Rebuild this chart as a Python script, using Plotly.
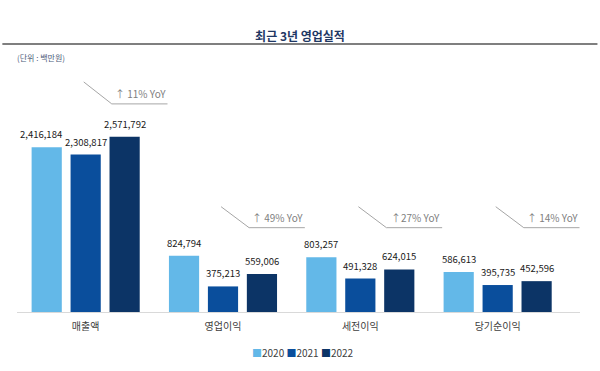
import plotly.graph_objects as go

categories = ["매출액", "영업이익", "세전이익", "당기순이익"]
years = ["2020", "2021", "2022"]
values_2020 = [2416184, 824794, 803257, 586613]
values_2021 = [2308817, 375213, 491328, 395735]
values_2022 = [2571792, 559006, 624015, 452596]
yoy_labels = ["↑ 11% YoY", "↑ 49% YoY", "↑27% YoY", "↑ 14% YoY"]

series = [values_2020, values_2021, values_2022]
colors = ["#63b8e8", "#0a4e9c", "#0c3466"]

# callout vertical levels (data units) and horizontal offsets (category units)
callout_bottom = [3.053e6, 1.237e6, 1.237e6, 1.237e6]
callout_top = [3.375e6, 1.545e6, 1.545e6, 1.545e6]
off_start, off_knee, off_end = -0.014, 0.19, 0.596

FONT = "Noto Sans CJK KR"
BARGAP, BARGROUPGAP = 0.149, 0.225
slot = (1 - BARGAP) / len(series)  # width of one bar slot in category units

fig = go.Figure()
annotations = []
for j, (name, vals, col) in enumerate(zip(years, series, colors)):
    fig.add_trace(go.Bar(
        x=categories, y=vals, name=name, marker=dict(color=col, line=dict(width=0)),
        showlegend=False, hoverinfo="skip",
    ))
    for i, v in enumerate(vals):
        annotations.append(dict(
            x=i + (j - (len(series) - 1) / 2) * slot, y=v, xref="x", yref="y",
            text=f"{v:,}", showarrow=False, xanchor="center", yanchor="bottom",
            yshift=4, xshift=(-6 if (i == 0 and j == 0) else 0),
            font=dict(family=FONT, size=9.5, color="#1a1a1a")))

shapes = []
for i, lab in enumerate(yoy_labels):
    shapes.append(dict(type="line", xref="x", yref="y",
                       x0=i + off_start, y0=callout_top[i], x1=i + off_knee, y1=callout_bottom[i],
                       line=dict(color="#a6a6a6", width=1)))
    shapes.append(dict(type="line", xref="x", yref="y",
                       x0=i + off_knee, y0=callout_bottom[i], x1=i + off_end, y1=callout_bottom[i],
                       line=dict(color="#a6a6a6", width=1)))
    annotations.append(dict(x=i + off_end, y=callout_bottom[i], xref="x", yref="y",
                            text=lab, showarrow=False, xanchor="right", yanchor="bottom",
                            yshift=1, font=dict(family=FONT, size=10, color="#808080")))

# title rule
shapes.append(dict(type="line", xref="paper", yref="paper", x0=-0.026, x1=1.031,
                   y0=1.0634, y1=1.0634, line=dict(color="#7f7f7f", width=2)))

annotations.append(dict(x=-0.0027, y=1.0099, xref="paper", yref="paper", text="(단위 : 백만원)",
                        showarrow=False, xanchor="left", yanchor="middle",
                        font=dict(family=FONT, size=8, color="#4d5d7a")))

legend_text = " ".join(f"<span style='color:{c}'>■</span>{y}" for y, c in zip(years, colors))
annotations.append(dict(x=0.508, y=-0.1604, xref="paper", yref="paper", text=legend_text,
                        showarrow=False, xanchor="center", yanchor="middle",
                        font=dict(family=FONT, size=10, color="#404040")))

fig.update_layout(
    width=600, height=371,
    margin=dict(l=16.5, r=19.5, t=60, b=58.5),
    paper_bgcolor="white", plot_bgcolor="white",
    barmode="group", bargap=BARGAP, bargroupgap=BARGROUPGAP,
    title=dict(text="<b>최근 3년 영업실적</b>", x=0.5, xref="container", y=0.9, yref="container",
               xanchor="center", yanchor="middle",
               font=dict(family=FONT, size=12, color="#1f3864")),
    xaxis=dict(showline=True, linecolor="#d9d9d9", linewidth=1, ticks="", showgrid=False,
               ticklabelstandoff=5,
               tickfont=dict(family=FONT, size=10, color="#404040")),
    yaxis=dict(visible=False, range=[0, 3.697e6]),
    shapes=shapes, annotations=annotations,
    showlegend=False,
)

fig.write_html("out.html", config={"displayModeBar": False},
               post_script="document.body.style.margin='0';document.body.style.padding='0';")
